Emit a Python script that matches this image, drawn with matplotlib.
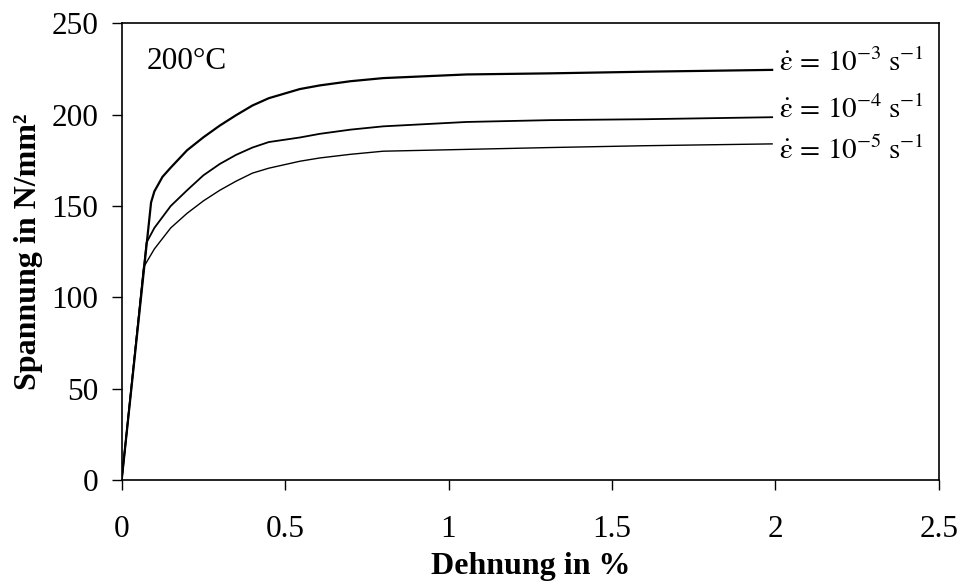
import matplotlib
matplotlib.use("Agg")
import matplotlib.pyplot as plt

plt.rcParams['font.family'] = ['Liberation Serif', 'DejaVu Serif']
plt.rcParams['mathtext.fontset'] = 'stix'

# Dehnung in %, Spannung in N/mm²
strain_3 = [0, 0.09, 0.1, 0.125, 0.15, 0.2, 0.25, 0.3, 0.35, 0.4, 0.45, 0.545, 0.606, 0.7, 0.8, 1.055, 1.31, 1.6, 1.99]
stress_3 = [0, 152, 158, 166, 171, 180.5, 187.6, 194, 199.7, 205, 209, 214, 216, 218.3, 220, 222, 222.6, 223.5, 224.5]

strain_4 = [0, 0.076, 0.1, 0.15, 0.2, 0.25, 0.3, 0.35, 0.4, 0.45, 0.545, 0.606, 0.7, 0.8, 1.055, 1.31, 1.6, 1.99]
stress_4 = [0, 130, 138, 150, 158.6, 166.8, 173, 178, 182, 185, 187.5, 189.5, 191.8, 193.6, 196, 197, 197.5, 198.6]

strain_5 = [0, 0.067, 0.1, 0.15, 0.2, 0.25, 0.3, 0.35, 0.4, 0.45, 0.545, 0.606, 0.7, 0.8, 1.055, 1.31, 1.6, 1.99]
stress_5 = [0, 116.5, 126.5, 138, 146, 152.8, 158.6, 163.6, 168, 170.7, 174.5, 176.3, 178.3, 180, 181, 182, 183, 184]

labels = [r'$\dot{\mathrm{ε}}\,=\,10^{-3}\;\mathrm{s}^{-1}$',
          r'$\dot{\mathrm{ε}}\,=\,10^{-4}\;\mathrm{s}^{-1}$',
          r'$\dot{\mathrm{ε}}\,=\,10^{-5}\;\mathrm{s}^{-1}$']
label_y = [224, 198, 176]

fig = plt.figure(figsize=(9.58, 5.82), dpi=100)
ax = fig.add_axes([0.127, 0.175, 0.853, 0.785])

ax.plot(strain_3, stress_3, color='black', lw=1.6)
ax.plot(strain_4, stress_4, color='black', lw=1.3)
ax.plot(strain_5, stress_5, color='black', lw=1.0)

for lab, yy in zip(labels, label_y):
    ax.text(2.01, yy, lab, fontsize=21, va='baseline', ha='left')

ax.text(0.075, 225, '200°C', fontsize=22.5, va='baseline', ha='left')

ax.set_xlim(0, 2.5)
ax.set_ylim(0, 250)
ax.set_xticks([0, 0.5, 1, 1.5, 2, 2.5])
ax.set_xticklabels(['0', '0.5', '1', '1.5', '2', '2.5'])
ax.set_yticks([0, 50, 100, 150, 200, 250])
ax.tick_params(axis='both', direction='out', length=7, width=1, labelsize=22.5)
ax.tick_params(axis='x', pad=18)
ax.tick_params(axis='y', pad=10)
ax.tick_params(top=False, right=False)
for s in ax.spines.values():
    s.set_linewidth(1.2)

ax.set_xlabel('Dehnung in %', fontsize=23, fontweight='bold', labelpad=6)
ax.set_ylabel('Spannung in N/mm²', fontsize=23, fontweight='bold', labelpad=6)

fig.savefig('out.png', dpi=100)
